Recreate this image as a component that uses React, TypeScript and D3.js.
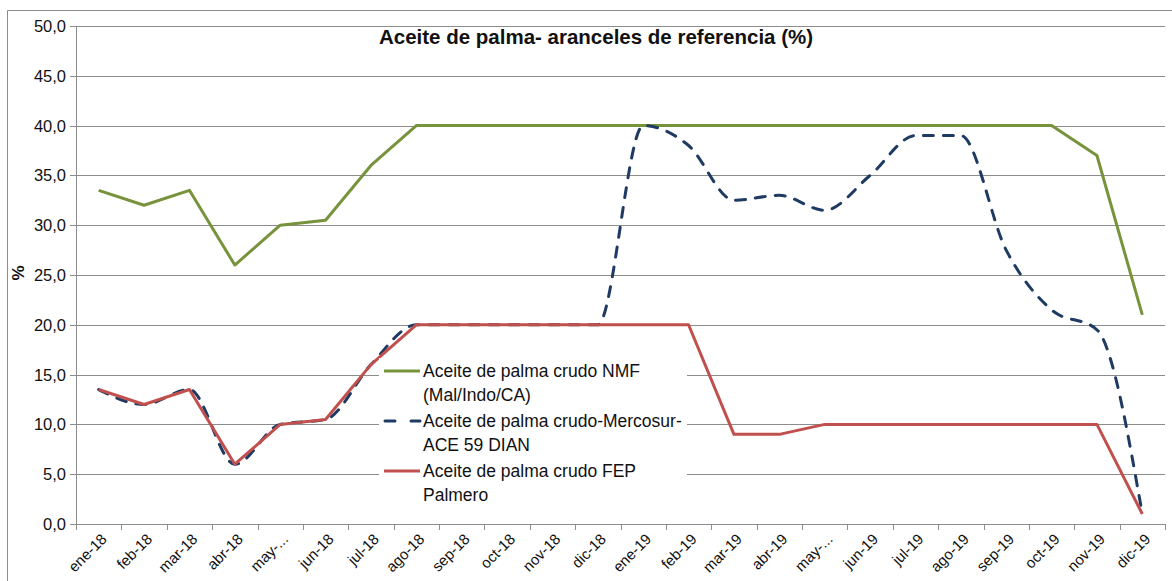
import React from "react";
import * as d3 from "d3";

const months = [
  "ene-18", "feb-18", "mar-18", "abr-18", "may-...", "jun-18", "jul-18", "ago-18",
  "sep-18", "oct-18", "nov-18", "dic-18", "ene-19", "feb-19", "mar-19", "abr-19",
  "may-...", "jun-19", "jul-19", "ago-19", "sep-19", "oct-19", "nov-19", "dic-19",
];
const nmf = [33.5, 32, 33.5, 26, 30, 30.5, 36, 40, 40, 40, 40, 40, 40, 40, 40, 40, 40, 40, 40, 40, 40, 40, 37, 21];
const mercosur = [13.5, 12, 13.5, 6, 10, 10.5, 16, 20, 20, 20, 20, 20, 40, 38, 32.5, 33, 31.5, 35, 39, 39, 27.5, 21.5, 19.5, 1];
const fep = [13.5, 12, 13.5, 6, 10, 10.5, 16, 20, 20, 20, 20, 20, 20, 20, 9, 9, 10, 10, 10, 10, 10, 10, 10, 1];
const yTicks = [0, 5, 10, 15, 20, 25, 30, 35, 40, 45, 50];
const title = "Aceite de palma- aranceles de referencia (%)";
const legendItems = [
  { lines: ["Aceite de palma crudo NMF", "(Mal/Indo/CA)"], key: "nmf" },
  { lines: ["Aceite de palma crudo-Mercosur-", "ACE 59 DIAN"], key: "mer" },
  { lines: ["Aceite de palma crudo FEP", "Palmero"], key: "fep" },
];

const GREEN = "#77933C";
const BLUE = "#1F3A63";
const RED = "#C0504D";
const GRID = "#8C8C8C";
const FONT = "'Liberation Sans', Arial, sans-serif";

export default function App() {
  const W = 1172, H = 581;
  const left = 76, right = 1165, top = 26, bottom = 524;
  const keys = months.map((m, i) => m + "_" + i);
  const x = d3.scaleBand<string>().domain(keys).range([left, right]).padding(0);
  const cx = (i: number) => (x(keys[i]) as number) + x.bandwidth() / 2;
  const y = d3.scaleLinear().domain([0, 50]).range([bottom, top]);
  const fmt = (v: number) => v.toFixed(1).replace(".", ",");

  const straight = d3.line<number>().x((_, i) => cx(i)).y((d) => y(d));
  const smooth = d3.line<number>().x((_, i) => cx(i)).y((d) => y(d)).curve(d3.curveMonotoneX);

  const legendRowY = [371, 421, 471];
  const lgColors: Record<string, string> = { nmf: GREEN, mer: BLUE, fep: RED };

  return (
    <svg width={W} height={H} style={{ position: "absolute", left: 0, top: 0, background: "#fff" }} fontFamily={FONT}>
      <rect x={0} y={0} width={W} height={H} fill="#fff" />
      {/* outer border */}
      <line x1={7.5} y1={10.5} x2={W} y2={10.5} stroke={GRID} strokeWidth={1} />
      <line x1={7.5} y1={10.5} x2={7.5} y2={H} stroke={GRID} strokeWidth={1} />

      {/* gridlines */}
      {yTicks.map((t) => (
        <line key={"g" + t} x1={left - 6} x2={right} y1={Math.round(y(t)) + 0.5} y2={Math.round(y(t)) + 0.5} stroke={GRID} strokeWidth={1} />
      ))}
      {/* y axis */}
      <line x1={left + 0.5} x2={left + 0.5} y1={top} y2={bottom + 6} stroke={GRID} strokeWidth={1} />
      {/* x ticks */}
      {d3.range(months.length + 1).map((i) => {
        const xx = i < months.length ? (x(keys[i]) as number) : right;
        return <line key={"xt" + i} x1={Math.round(xx) + 0.5} x2={Math.round(xx) + 0.5} y1={bottom} y2={bottom + 6} stroke={GRID} strokeWidth={1} />;
      })}

      {/* y labels */}
      {yTicks.map((t) => (
        <text key={"yl" + t} x={66} y={y(t) + 6} textAnchor="end" fontSize={16.5} fill="#111">{fmt(t)}</text>
      ))}
      {/* x labels */}
      {months.map((m, i) => (
        <text key={"xl" + i} transform={`translate(${cx(i) + 9},${bottom + 16}) rotate(-45)`} textAnchor="end" fontSize={15} fill="#111">{m}</text>
      ))}

      {/* y title */}
      <text transform="translate(24,273) rotate(-90)" textAnchor="middle" fontSize={17} fontWeight="bold" fill="#111">%</text>

      {/* series */}
      <path d={straight(nmf) as string} fill="none" stroke={GREEN} strokeWidth={3} strokeLinejoin="round" />
      <path d={smooth(mercosur) as string} fill="none" stroke={BLUE} strokeWidth={3} strokeDasharray="10,10" strokeLinecap="round" strokeLinejoin="round" />
      <path d={straight(fep) as string} fill="none" stroke={RED} strokeWidth={3} strokeLinejoin="round" />

      {/* title */}
      <text x={596} y={44} textAnchor="middle" fontSize={20.5} fontWeight="bold" fill="#111">{title}</text>

      {/* legend */}
      <rect x={379} y={358} width={308} height={146} fill="#fff" />
      {legendItems.map((it, k) => (
        <g key={it.key}>
          {it.key === "mer" ? (
            <g>
              <line x1={385} x2={395} y1={legendRowY[k]} y2={legendRowY[k]} stroke={BLUE} strokeWidth={3} strokeLinecap="round" />
              <line x1={411} x2={420} y1={legendRowY[k]} y2={legendRowY[k]} stroke={BLUE} strokeWidth={3} strokeLinecap="round" />
            </g>
          ) : (
            <line x1={384} x2={420} y1={legendRowY[k]} y2={legendRowY[k]} stroke={lgColors[it.key]} strokeWidth={3} />
          )}
          {it.lines.map((ln, j) => (
            <text key={j} x={423} y={legendRowY[k] + 6 + j * 24} fontSize={17.5} fill="#111">{ln}</text>
          ))}
        </g>
      ))}
    </svg>
  );
}
